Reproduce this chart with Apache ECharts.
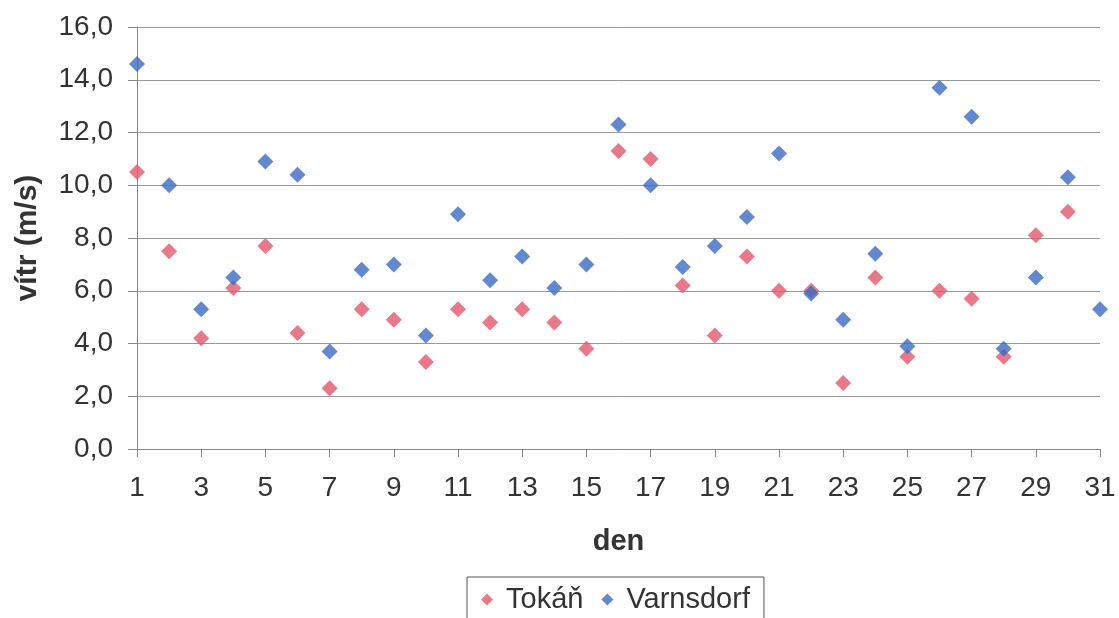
<!DOCTYPE html>
<html>
<head>
<meta charset="utf-8">
<script src="https://cdn.jsdelivr.net/npm/echarts@6/dist/echarts.min.js"></script>
<style>
  html, body { margin: 0; padding: 0; background: #fff; }
  #main { width: 1119px; height: 618px; }
</style>
</head>
<body>
<div id="main"></div>
<script>
// den 1..31
const days = Array.from({ length: 31 }, (_, i) => String(i + 1));

const tokan = [10.5, 7.5, 4.2, 6.1, 7.7, 4.4, 2.3, 5.3, 4.9, 3.3,
  5.3, 4.8, 5.3, 4.8, 3.8, 11.3, 11.0, 6.2, 4.3, 7.3,
  6.0, 6.0, 2.5, 6.5, 3.5, 6.0, 5.7, 3.5, 8.1, 9.0, null];

const varnsdorf = [14.6, 10.0, 5.3, 6.5, 10.9, 10.4, 3.7, 6.8, 7.0, 4.3,
  8.9, 6.4, 7.3, 6.1, 7.0, 12.3, 10.0, 6.9, 7.7, 8.8,
  11.2, 5.9, 4.9, 7.4, 3.9, 13.7, 12.6, 3.8, 6.5, 10.3, 5.3];

const chart = echarts.init(document.getElementById('main'));

const font = 'Arial, "Liberation Sans", sans-serif';

chart.setOption({
  animation: false,
  grid: { left: 137, right: 19, top: 27, bottom: 169 },
  legend: {
    top: 577,
    left: 467,
    icon: 'diamond',
    itemWidth: 12,
    itemHeight: 12,
    itemGap: 18,
    borderColor: '#555',
    borderWidth: 1,
    padding: [8, 14, 12, 14],
    textStyle: { fontFamily: font, fontSize: 29, color: '#333', padding: [0, 0, 0, 8] },
    data: ['Tokáň', 'Varnsdorf']
  },
  xAxis: {
    type: 'category',
    data: days,
    boundaryGap: false,
    name: 'den',
    nameLocation: 'middle',
    nameGap: 78,
    nameTextStyle: { fontFamily: font, fontSize: 29, fontWeight: 'bold', color: '#333' },
    axisLine: { lineStyle: { color: '#888' } },
    axisTick: { interval: 1, length: 8, lineStyle: { color: '#888' } },
    axisLabel: { interval: 1, margin: 25, fontFamily: font, fontSize: 28, color: '#333' },
    splitLine: { show: false }
  },
  yAxis: {
    type: 'value',
    min: 0,
    max: 16,
    interval: 2,
    name: 'vítr (m/s)',
    nameLocation: 'middle',
    nameGap: 94,
    nameTextStyle: { fontFamily: font, fontSize: 30, fontWeight: 'bold', color: '#333' },
    axisLine: { show: true, lineStyle: { color: '#888' } },
    axisTick: { show: true, length: 9, lineStyle: { color: '#888' } },
    axisLabel: {
      margin: 24,
      fontFamily: font,
      fontSize: 28,
      color: '#333',
      formatter: v => v.toFixed(1).replace('.', ',')
    },
    splitLine: { lineStyle: { color: '#999' } }
  },
  series: [
    {
      name: 'Tokáň',
      type: 'scatter',
      symbol: 'diamond',
      symbolSize: 16,
      itemStyle: { color: '#e4586a' },
      data: tokan
    },
    {
      name: 'Varnsdorf',
      type: 'scatter',
      symbol: 'diamond',
      symbolSize: 16,
      itemStyle: { color: '#3b6cc4' },
      data: varnsdorf
    }
  ]
});
</script>
</body>
</html>
